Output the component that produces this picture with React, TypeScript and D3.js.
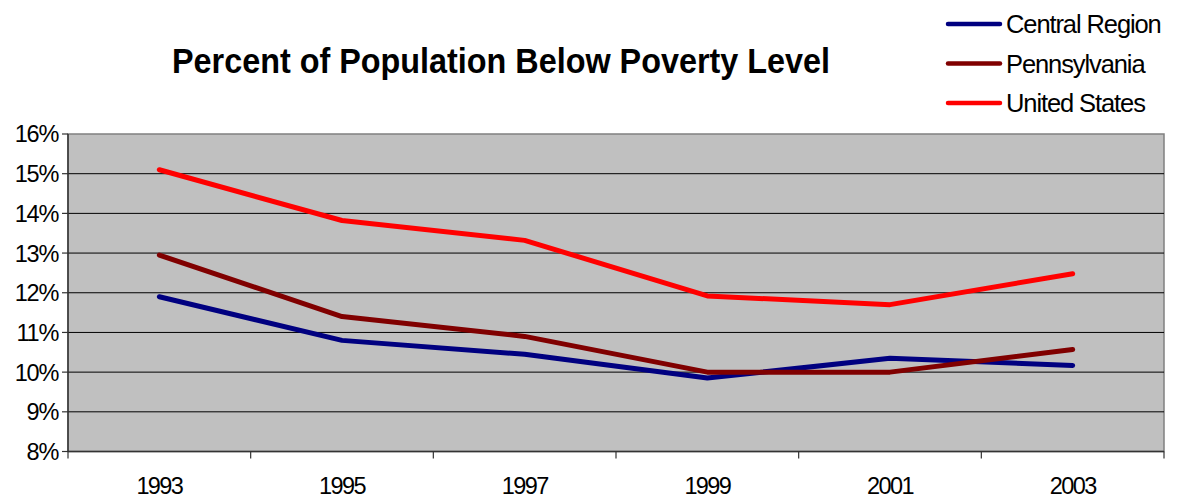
import React from "react";
import * as d3 from "d3";

const years = ["1993", "1995", "1997", "1999", "2001", "2003"];
const centralRegion = [11.9, 10.8, 10.45, 9.85, 10.35, 10.17];
const pennsylvania = [12.95, 11.4, 10.9, 10.0, 10.0, 10.57];
const unitedStates = [15.1, 13.82, 13.32, 11.92, 11.7, 12.48];
const yTicks = [8, 9, 10, 11, 12, 13, 14, 15, 16];

const series = [
  { name: "Central Region", values: centralRegion, color: "#000080" },
  { name: "Pennsylvania", values: pennsylvania, color: "#800000" },
  { name: "United States", values: unitedStates, color: "#FF0000" },
];

const W = 1186;
const H = 500;
const plot = { left: 68, right: 1164, top: 134, bottom: 451.5 };
const font = "'Liberation Sans', Arial, sans-serif";

export default function App() {
  const x = d3
    .scaleBand<string>()
    .domain(years)
    .range([plot.left, plot.right]);
  const y = d3.scaleLinear().domain([8, 16]).range([plot.bottom, plot.top]);

  const line = d3
    .line<number>()
    .x((_, i) => (x(years[i]) as number) + x.bandwidth() / 2)
    .y((v) => y(v));

  const boundaries = years.map((yr) => x(yr) as number).concat([plot.right]);

  return (
    <svg
      width={W}
      height={H}
      style={{ position: "absolute", left: 0, top: 0, background: "#fff" }}
    >
      {/* plot area */}
      <rect
        x={plot.left}
        y={plot.top}
        width={plot.right - plot.left}
        height={plot.bottom - plot.top}
        fill="#C0C0C0"
        stroke="#808080"
        strokeWidth={1.5}
      />
      {/* horizontal gridlines */}
      {yTicks.slice(1, -1).map((t) => (
        <line
          key={t}
          x1={plot.left}
          x2={plot.right}
          y1={y(t)}
          y2={y(t)}
          stroke="#000"
          strokeWidth={1}
        />
      ))}
      {/* axes */}
      <line x1={plot.left} x2={plot.left} y1={plot.top} y2={plot.bottom} stroke="#333" strokeWidth={1.5} />
      <line x1={plot.left} x2={plot.right} y1={plot.bottom} y2={plot.bottom} stroke="#333" strokeWidth={1.5} />
      {yTicks.map((t) => (
        <g key={t}>
          <line x1={plot.left - 6} x2={plot.left} y1={y(t)} y2={y(t)} stroke="#333" strokeWidth={1.2} />
          <text
            x={58}
            y={y(t)}
            dy="0.36em"
            textAnchor="end"
            fontFamily={font}
            fontSize={23.5}
            letterSpacing={-1.3}
            fill="#000"
          >
            {t}%
          </text>
        </g>
      ))}
      {boundaries.map((bx, i) => (
        <line key={i} x1={bx} x2={bx} y1={plot.bottom} y2={plot.bottom + 7} stroke="#333" strokeWidth={1.2} />
      ))}
      {years.map((yr) => (
        <text
          key={yr}
          x={(x(yr) as number) + x.bandwidth() / 2}
          y={494}
          textAnchor="middle"
          fontFamily={font}
          fontSize={23.5}
          letterSpacing={-1.6}
          fill="#000"
        >
          {yr}
        </text>
      ))}
      {/* series */}
      {series.map((s) => (
        <path
          key={s.name}
          d={line(s.values) || ""}
          fill="none"
          stroke={s.color}
          strokeWidth={5}
          strokeLinejoin="round"
          strokeLinecap="round"
        />
      ))}
      {/* title */}
      <text
        x={172}
        y={73}
        fontFamily={font}
        fontSize={35}
        fontWeight="bold"
        textLength={658}
        lengthAdjust="spacingAndGlyphs"
        fill="#000"
      >
        Percent of Population Below Poverty Level
      </text>
      {/* legend */}
      {series.map((s, i) => (
        <g key={s.name} transform={`translate(948, ${24 + i * 39.5})`}>
          <line x1={0} x2={52} y1={0} y2={0} stroke={s.color} strokeWidth={4.5} strokeLinecap="round" />
          <text
            x={58}
            y={0}
            dy="0.36em"
            fontFamily={font}
            fontSize={25.5}
            letterSpacing={-1.1}
            fill="#000"
          >
            {s.name}
          </text>
        </g>
      ))}
    </svg>
  );
}
